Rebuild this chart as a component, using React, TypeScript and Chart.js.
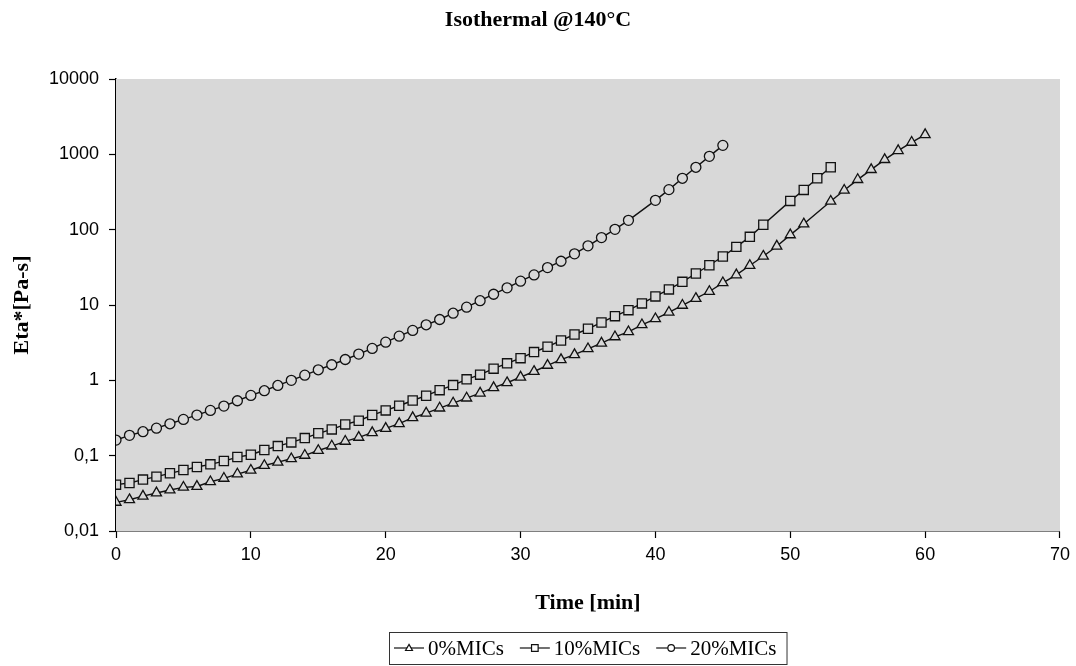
import React, { useEffect, useRef } from "react";
import { Chart, registerables } from "chart.js";

Chart.register(...registerables);

const TITLE = "Isothermal @140°C";
const X_TITLE = "Time [min]";
const Y_TITLE = "Eta*[Pa-s]";
const SERIES_LABELS = ["0%MICs", "10%MICs", "20%MICs"];
const POINT_STYLES = ["triangle", "rect", "circle"];

const X_TICKS = [0, 10, 20, 30, 40, 50, 60, 70];
const Y_TICK_VALUES = [0.01, 0.1, 1, 10, 100, 1000, 10000];
const Y_TICK_LABELS = ["0,01", "0,1", "1", "10", "100", "1000", "10000"];

// 0% MICs
const time0 = [
  0, 1, 2, 3, 4, 5, 6, 7, 8, 9, 10, 11, 12, 13, 14, 15, 16, 17, 18, 19, 20,
  21, 22, 23, 24, 25, 26, 27, 28, 29, 30, 31, 32, 33, 34, 35, 36, 37, 38, 39,
  40, 41, 42, 43, 44, 45, 46, 47, 48, 49, 50, 51, 53, 54, 55, 56, 57, 58, 59, 60,
];
const eta0 = [
  0.024, 0.026, 0.029, 0.032, 0.035, 0.038, 0.039, 0.045, 0.05, 0.057, 0.064,
  0.074, 0.082, 0.091, 0.101, 0.117, 0.134, 0.155, 0.175, 0.202, 0.23,
  0.266, 0.319, 0.367, 0.428, 0.499, 0.581, 0.676, 0.798, 0.929, 1.1,
  1.31, 1.58, 1.88, 2.19, 2.62, 3.11, 3.78, 4.41, 5.46, 6.56,
  8.0, 9.9, 12.2, 15.1, 19.7, 25.1, 33.4, 44.4, 60.3, 85.3, 119,
  238, 333, 462, 627, 851, 1120, 1443, 1824,
];

// 10% MICs
const time10 = [
  0, 1, 2, 3, 4, 5, 6, 7, 8, 9, 10, 11, 12, 13, 14, 15, 16, 17, 18, 19, 20,
  21, 22, 23, 24, 25, 26, 27, 28, 29, 30, 31, 32, 33, 34, 35, 36, 37, 38, 39,
  40, 41, 42, 43, 44, 45, 46, 47, 48, 50, 51, 52, 53,
];
const eta10 = [
  0.0412, 0.0434, 0.0481, 0.0527, 0.0583, 0.0644, 0.0706, 0.0767, 0.0848,
  0.0958, 0.103, 0.119, 0.134, 0.15, 0.171, 0.198, 0.223, 0.26, 0.291, 0.346,
  0.399, 0.46, 0.54, 0.625, 0.741, 0.864, 1.03, 1.19, 1.43, 1.68, 1.97,
  2.37, 2.79, 3.38, 4.06, 4.83, 5.86, 7.11, 8.54, 10.5,
  13.0, 16.1, 20.3, 26.2, 33.7, 44, 59.1, 80.3, 116, 241, 337, 481, 673,
];

// 20% MICs
const time20 = [
  0, 1, 2, 3, 4, 5, 6, 7, 8, 9, 10, 11, 12, 13, 14, 15, 16, 17, 18, 19, 20,
  21, 22, 23, 24, 25, 26, 27, 28, 29, 30, 31, 32, 33, 34, 35, 36, 37, 38,
  40, 41, 42, 43, 44, 45,
];
const eta20 = [
  0.161, 0.186, 0.208, 0.232, 0.265, 0.303, 0.346, 0.399, 0.455, 0.536, 0.63,
  0.728, 0.855, 1.0, 1.17, 1.38, 1.61, 1.89, 2.23, 2.65, 3.21,
  3.86, 4.6, 5.46, 6.42, 7.78, 9.35, 11.4, 13.9, 16.9, 20.7,
  25.1, 31.4, 38.1, 47.8, 61, 78.5, 101, 133,
  245, 340, 481, 673, 940, 1315,
];

const PLOT_BG = "#d8d8d8";
const INK = "#111111";

function toPoints(xs: number[], ys: number[]) {
  return xs.map((x, i) => ({ x, y: ys[i] }));
}

function drawMarker(ctx: CanvasRenderingContext2D, style: string, x: number, y: number, r: number) {
  ctx.beginPath();
  if (style === "circle") {
    ctx.arc(x, y, r, 0, Math.PI * 2);
  } else if (style === "rect") {
    ctx.rect(x - r, y - r, 2 * r, 2 * r);
  } else {
    ctx.moveTo(x, y - r * 1.1);
    ctx.lineTo(x + r * 1.05, y + r * 0.75);
    ctx.lineTo(x - r * 1.05, y + r * 0.75);
    ctx.closePath();
  }
  ctx.fillStyle = "#ffffff";
  ctx.fill();
  ctx.stroke();
}

const bgPlugin = {
  id: "plotBg",
  beforeDatasetsDraw(chart: any) {
    const { ctx, chartArea } = chart;
    ctx.save();
    ctx.fillStyle = PLOT_BG;
    ctx.fillRect(chartArea.left, chartArea.top, chartArea.right - chartArea.left, chartArea.bottom - chartArea.top);
    ctx.restore();
  },
};

const titleLegendPlugin = {
  id: "titleLegend",
  afterDraw(chart: any) {
    const { ctx, chartArea, width } = chart;
    ctx.save();
    // title
    ctx.fillStyle = "#000";
    ctx.font = "bold 22px 'Liberation Serif'";
    ctx.textAlign = "center";
    ctx.textBaseline = "middle";
    ctx.fillText(TITLE, width / 2, 20);

    // legend
    ctx.font = "21px 'Liberation Serif'";
    const lineW = 30;
    const gapText = 4;
    const itemGap = 16;
    const padL = 5;
    const padR = 10;
    const items = chart.data.datasets.map((ds: any) => ({
      label: ds.label as string,
      w: ctx.measureText(ds.label).width,
      style: ds.pointStyle as string,
    }));
    const total =
      padL + padR +
      items.reduce((s: number, it: any) => s + lineW + gapText + it.w, 0) +
      itemGap * (items.length - 1);
    const cx = (chartArea.left + chartArea.right) / 2;
    const left = Math.round(cx - total / 2);
    const top = 632;
    const h = 32;
    const midY = top + h / 2;
    ctx.strokeStyle = "#333";
    ctx.lineWidth = 1;
    ctx.strokeRect(left + 0.5, top + 0.5, total, h);
    let x = left + padL;
    ctx.textAlign = "left";
    items.forEach((it: any) => {
      ctx.strokeStyle = INK;
      ctx.lineWidth = 1.2;
      ctx.beginPath();
      ctx.moveTo(x, midY);
      ctx.lineTo(x + lineW, midY);
      ctx.stroke();
      drawMarker(ctx, it.style, x + lineW / 2, midY, 3.3);
      ctx.fillStyle = "#000";
      ctx.fillText(it.label, x + lineW + gapText, midY + 1);
      x += lineW + gapText + it.w + itemGap;
    });
    ctx.restore();
  },
};

export default function App() {
  const canvasRef = useRef<HTMLCanvasElement | null>(null);

  useEffect(() => {
    const canvas = canvasRef.current;
    if (!canvas) return;
    const seriesX = [time0, time10, time20];
    const seriesY = [eta0, eta10, eta20];
    const radii = [5.8, 6.5, 5];
    const chart = new Chart(canvas, {
      type: "line",
      data: {
        datasets: SERIES_LABELS.map((label, i) => ({
          label,
          data: toPoints(seriesX[i], seriesY[i]),
          borderColor: INK,
          borderWidth: 1.4,
          pointStyle: POINT_STYLES[i] as any,
          pointRadius: radii[i],
          pointBorderWidth: 1.3,
          pointBorderColor: INK,
          pointBackgroundColor: PLOT_BG,
          tension: 0,
          fill: false,
        })),
      },
      options: {
        responsive: false,
        animation: false,
        layout: { padding: { top: 79, left: 0, right: 13, bottom: 45 } },
        plugins: {
          legend: { display: false },
          title: { display: false },
          tooltip: { enabled: false },
        },
        scales: {
          x: {
            type: "linear",
            min: 0,
            max: 70,
            afterBuildTicks: (scale: any) => {
              scale.ticks = X_TICKS.map((v) => ({ value: v }));
            },
            afterFit: (scale: any) => {
              scale.height = 90;
            },
            ticks: {
              color: "#000",
              font: { family: "'Liberation Sans'", size: 18 },
              padding: 6,
              maxRotation: 0,
            },
            grid: {
              display: true,
              drawOnChartArea: false,
              drawTicks: true,
              tickLength: 7,
              tickColor: "#000",
              tickWidth: 1.2,
            },
            border: { display: true, color: "#000", width: 1.5 },
            title: {
              display: true,
              text: X_TITLE,
              color: "#000",
              font: { family: "'Liberation Serif'", size: 22, weight: "bold" },
              padding: { top: 0, bottom: 4 },
            },
          },
          y: {
            type: "logarithmic",
            min: 0.01,
            max: 10000,
            afterBuildTicks: (scale: any) => {
              scale.ticks = Y_TICK_VALUES.map((v) => ({ value: v, major: true }));
            },
            afterFit: (scale: any) => {
              scale.width = 116;
            },
            ticks: {
              color: "#000",
              font: { family: "'Liberation Sans'", size: 18 },
              padding: 10,
              callback: (_v: any, index: number) => Y_TICK_LABELS[index],
            },
            grid: {
              display: true,
              drawOnChartArea: false,
              drawTicks: true,
              tickLength: 7,
              tickColor: "#000",
              tickWidth: 1.2,
            },
            border: { display: true, color: "#000", width: 1.5 },
            title: {
              display: true,
              text: Y_TITLE,
              color: "#000",
              font: { family: "'Liberation Serif'", size: 22, weight: "bold" },
              padding: { top: 9, bottom: 0 },
            },
          },
        },
      },
      plugins: [bgPlugin, titleLegendPlugin],
    });
    return () => chart.destroy();
  }, []);

  return (
    <div style={{ position: "absolute", left: 0, top: 0, width: 1076, height: 666, background: "#fff" }}>
      <canvas ref={canvasRef} width={1076} height={666} style={{ display: "block" }} />
    </div>
  );
}
